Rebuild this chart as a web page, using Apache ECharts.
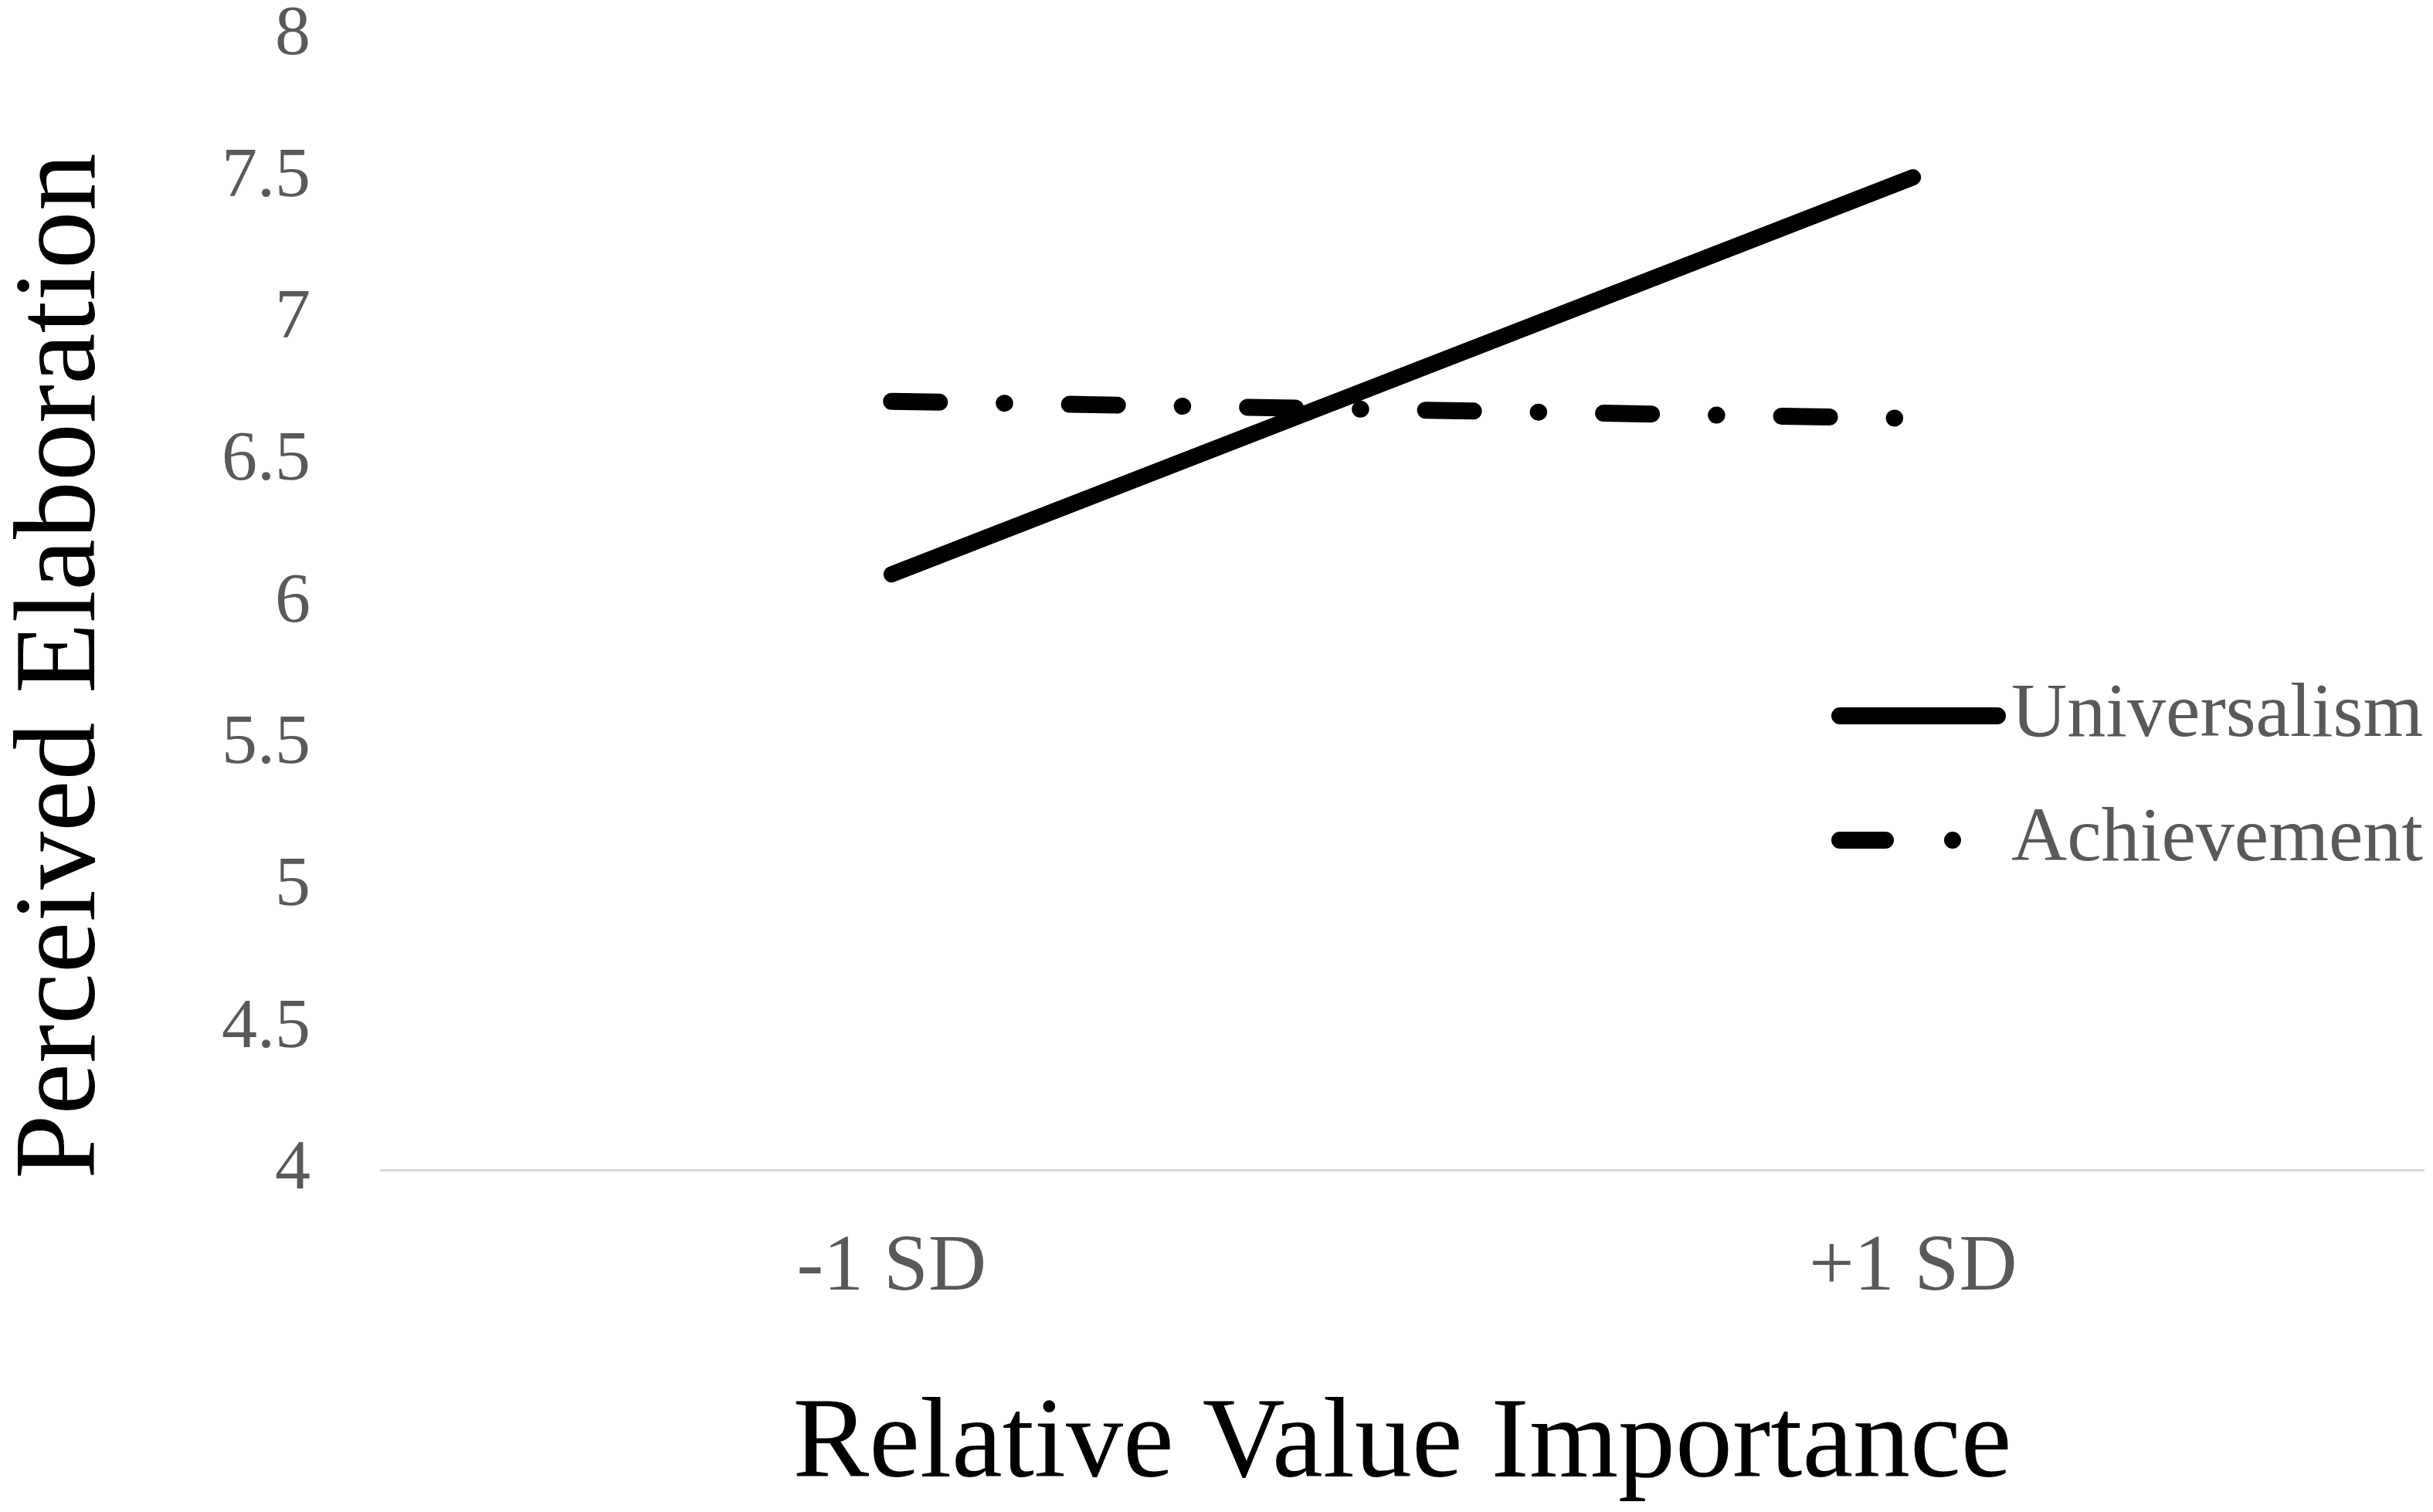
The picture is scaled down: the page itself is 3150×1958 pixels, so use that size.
<!DOCTYPE html>
<html>
<head>
<meta charset="utf-8">
<script src="https://cdn.jsdelivr.net/npm/echarts@6/dist/echarts.min.js"></script>
<style>
html,body{margin:0;padding:0;background:#fff;}
#chart{width:3150px;height:1958px;}
</style>
</head>
<body>
<div id="chart"></div>
<script>
var categories = ['-1 SD', '+1 SD'];
var universalism = [6.10, 7.50];
var achievement = [6.71, 6.65];
var seriesNames = ['Universalism', 'Achievement'];
var yMin = 4, yMax = 8, yStep = 0.5;
var xTitle = 'Relative Value Importance';
var yTitle = 'Perceived Elaboration';

var FONT = "'Liberation Serif', 'Times New Roman', serif";
var solidIcon = 'path://M0,11 M11,0 L215,0 A11,11 0 0 1 215,22 L11,22 A11,11 0 0 1 11,0 Z M226,11 Z';
var dashDotIcon = 'path://M0,11 M11,0 L70,0 A11,11 0 0 1 70,22 L11,22 A11,11 0 0 1 11,0 Z M157,0 A11,11 0 1 1 157,22 A11,11 0 1 1 157,0 Z M226,11 Z';

var chart = echarts.init(document.getElementById('chart'));
chart.setOption({
  animation: false,
  backgroundColor: '#ffffff',
  grid: { left: 489, right: 12, top: 37, bottom: 443, containLabel: false },
  legend: {
    orient: 'vertical',
    left: 2366,
    top: 872,
    itemWidth: 226,
    itemHeight: 22,
    itemGap: 61,
    data: [
      { name: seriesNames[0], icon: solidIcon },
      { name: seriesNames[1], icon: dashDotIcon }
    ],
    itemStyle: { color: '#000000', borderWidth: 0 },
    textStyle: { fontFamily: FONT, fontSize: 100, color: '#595959', padding: [0, 0, 0, 2] }
  },
  xAxis: {
    type: 'category',
    data: categories,
    boundaryGap: true,
    axisLine: { show: true, lineStyle: { color: '#d9d9d9', width: 3 } },
    axisTick: { show: false },
    axisLabel: { fontFamily: FONT, fontSize: 104, color: '#595959', margin: 76 },
    name: xTitle,
    nameLocation: 'middle',
    nameGap: 284,
    nameTextStyle: { fontFamily: FONT, fontSize: 148, color: '#000000' }
  },
  yAxis: {
    type: 'value',
    min: yMin,
    max: yMax,
    interval: yStep,
    axisLine: { show: false },
    axisTick: { show: false },
    splitLine: { show: false },
    axisLabel: { fontFamily: FONT, fontSize: 92, color: '#595959', margin: 91 },
    name: yTitle,
    nameLocation: 'middle',
    nameGap: 335,
    nameTextStyle: { fontFamily: FONT, fontSize: 150, color: '#000000', padding: [0, 164, 0, 0] }
  },
  series: [
    {
      name: seriesNames[0],
      type: 'line',
      data: universalism,
      symbol: 'none',
      lineStyle: { color: '#000000', width: 21, cap: 'round' },
      itemStyle: { color: '#000000' }
    },
    {
      name: seriesNames[1],
      type: 'line',
      data: achievement,
      symbol: 'none',
      lineStyle: { color: '#000000', width: 22, cap: 'round', type: [62, 84, 0.5, 84] },
      itemStyle: { color: '#000000' }
    }
  ]
});
</script>
</body>
</html>
